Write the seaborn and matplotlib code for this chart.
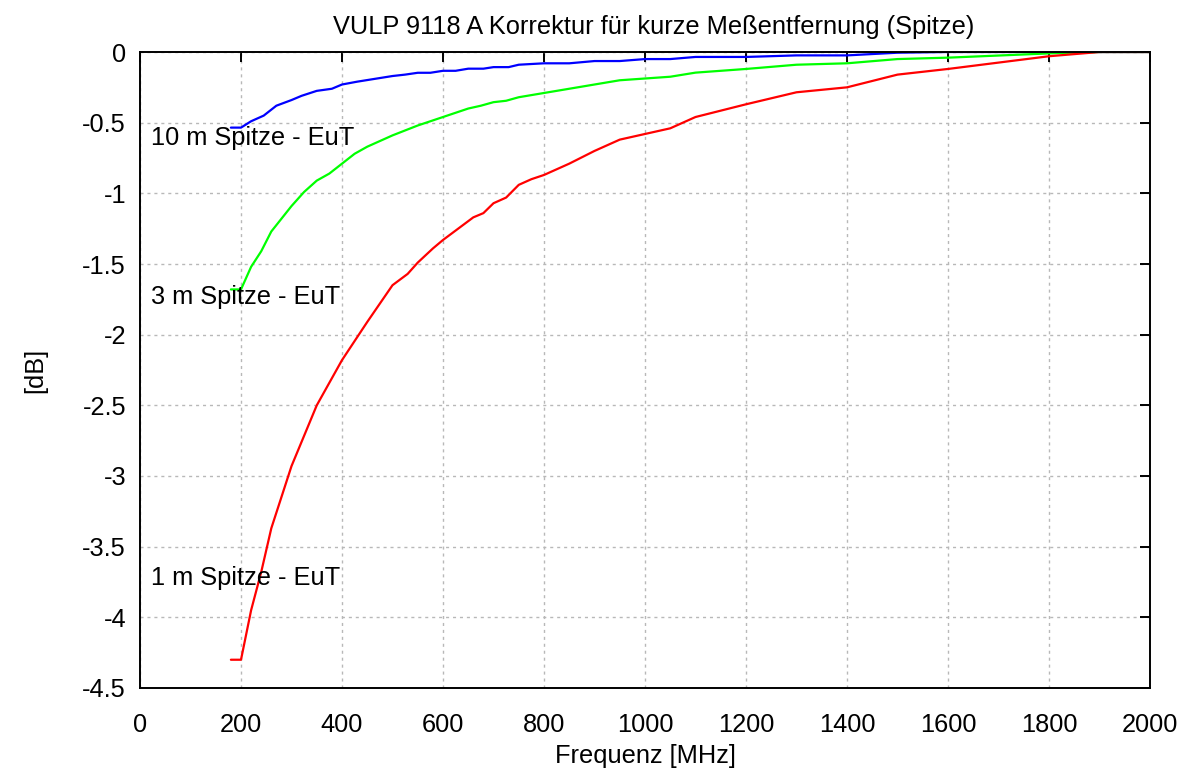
import numpy as np
import pandas as pd
import matplotlib
matplotlib.use("Agg")
import matplotlib.pyplot as plt
import seaborn as sns

# frequency [MHz] / correction [dB]
freq_1m = [180, 200, 220, 240, 260, 300, 350, 400, 450, 500, 530, 550, 580, 600,
           630, 660, 680, 700, 725, 750, 775, 800, 850, 900, 950, 1000, 1050, 1100,
           1200, 1300, 1400, 1500, 1600, 1800, 1900, 2000]
db_1m = [-4.30, -4.30, -3.95, -3.68, -3.37, -2.93, -2.50, -2.18, -1.91, -1.65, -1.57,
         -1.49, -1.39, -1.33, -1.25, -1.17, -1.14, -1.07, -1.03, -0.94, -0.90, -0.87,
         -0.79, -0.70, -0.62, -0.58, -0.54, -0.46, -0.37, -0.285, -0.25, -0.16, -0.12,
         -0.03, 0.0, 0.0]

freq_3m = [180, 200, 220, 240, 260, 280, 300, 325, 350, 375, 400, 425, 450, 500, 550,
           600, 625, 650, 675, 700, 725, 750, 800, 850, 900, 950, 1050, 1100, 1200,
           1300, 1400, 1500, 1600, 1800, 1900, 2000]
db_3m = [-1.68, -1.68, -1.52, -1.41, -1.27, -1.18, -1.09, -0.99, -0.91, -0.86, -0.79,
         -0.72, -0.67, -0.59, -0.52, -0.46, -0.43, -0.40, -0.38, -0.355, -0.345, -0.32,
         -0.29, -0.26, -0.23, -0.20, -0.175, -0.146, -0.12, -0.09, -0.08, -0.05, -0.04,
         -0.01, 0.0, 0.0]

freq_10m = [180, 200, 220, 245, 270, 300, 320, 350, 380, 400, 430, 465, 500, 525, 550,
            575, 600, 625, 650, 680, 700, 730, 750, 800, 850, 900, 950, 1000, 1050,
            1100, 1200, 1300, 1400, 1500, 1600, 2000]
db_10m = [-0.535, -0.535, -0.49, -0.45, -0.38, -0.34, -0.31, -0.275, -0.26, -0.23,
          -0.21, -0.19, -0.17, -0.16, -0.147, -0.147, -0.133, -0.133, -0.118, -0.118,
          -0.107, -0.107, -0.09, -0.08, -0.08, -0.064, -0.064, -0.05, -0.05, -0.035,
          -0.035, -0.024, -0.024, -0.005, 0.0, 0.0]

series_labels = ["10 m Spitze - EuT", "3 m Spitze - EuT", "1 m Spitze - EuT"]
label_y = [-0.61, -1.73, -3.72]
x_ticks = list(range(0, 2001, 200))
y_ticks = [0, -0.5, -1, -1.5, -2, -2.5, -3, -3.5, -4, -4.5]
y_ticklabels = ["0", "-0.5", "-1", "-1.5", "-2", "-2.5", "-3", "-3.5", "-4", "-4.5"]

sns.set_style("white")
plt.rcParams['font.family'] = ['Liberation Sans', 'DejaVu Sans']
plt.rcParams['axes.unicode_minus'] = False
plt.rcParams['text.color'] = 'black'
plt.rcParams['axes.labelcolor'] = 'black'
plt.rcParams['xtick.color'] = 'black'
plt.rcParams['ytick.color'] = 'black'

fs = 18.3

fig = plt.figure(figsize=(11.88, 7.69), dpi=100)
ax = fig.add_axes([140 / 1188, 1 - 688 / 769, 1010 / 1188, 636 / 769])

sns.lineplot(x=freq_10m, y=db_10m, ax=ax, color="#0000ff", lw=1.6, sort=False)
sns.lineplot(x=freq_3m, y=db_3m, ax=ax, color="#00ff00", lw=1.6, sort=False)
sns.lineplot(x=freq_1m, y=db_1m, ax=ax, color="#ff0000", lw=1.6, sort=False)

for txt, yy in zip(series_labels, label_y):
    ax.text(22, yy, txt, fontsize=fs, ha="left", va="center")

ax.set_xlim(0, 2000)
ax.set_ylim(-4.5, 0)
ax.set_xticks(x_ticks)
ax.set_yticks(y_ticks)
ax.set_yticklabels(y_ticklabels)
ax.tick_params(direction="in", length=7, width=1.4, top=True, right=True,
               labelsize=fs)
ax.tick_params(axis="x", pad=18)
ax.tick_params(axis="y", pad=10)
ax.grid(True, color="#b8b8b8", linestyle=(0, (2.2, 2.8)), lw=1.0)
for s in ax.spines.values():
    s.set_color("black")
    s.set_linewidth(1.4)

ax.set_title("VULP 9118 A Korrektur für kurze Meßentfernung (Spitze)", fontsize=fs,
             pad=13, x=0.509)
ax.set_xlabel("Frequenz [MHz]", fontsize=fs, labelpad=5)
ax.set_ylabel("[dB]", fontsize=fs, labelpad=25)

fig.savefig("out.png", dpi=100)
